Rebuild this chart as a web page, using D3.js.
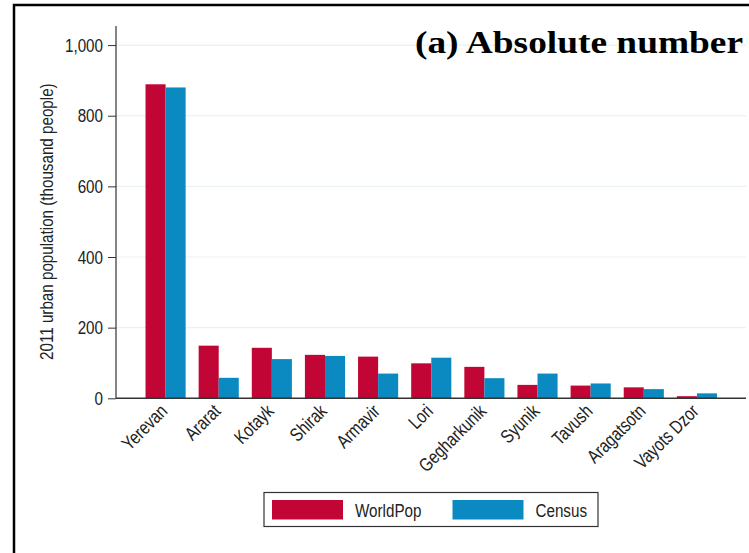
<!DOCTYPE html>
<html>
<head>
<meta charset="utf-8">
<script src="https://cdn.jsdelivr.net/npm/d3@7"></script>
<style>
    body { margin: 0; background: #fff; }
    text { font-family: "Liberation Sans", Arial, sans-serif; }
</style>
</head>
<body>
<div id="chart"></div>
<script>
// Regions, in the order they appear on the x axis
var regions = ["Yerevan", "Ararat", "Kotayk", "Shirak", "Armavir", "Lori",
    "Gegharkunik", "Syunik", "Tavush", "Aragatsotn", "Vayots Dzor"];

// 2011 urban population, thousand people
var worldPop = [889, 149, 143, 123, 118, 99, 89, 38, 36, 31, 6];
var census = [880, 58, 111, 120, 70, 115, 57, 70, 42, 26, 14];

var seriesNames = ["WorldPop", "Census"];
var seriesColors = ["#c10534", "#0a8ac0"];
var yTicks = [0, 200, 400, 600, 800, 1000];

var width = 749, height = 553;
var squeeze = 0.8; // the original glyphs are tall and narrow

let svg = d3.select("#chart").append("svg")
    .attr("width", width)
    .attr("height", height);

// outer frame (runs off the right and bottom edge)
svg.append("rect")
    .attr("x", 14)
    .attr("y", 5)
    .attr("width", 800)
    .attr("height", 600)
    .attr("fill", "none")
    .attr("stroke", "#000")
    .attr("stroke-width", 2.5);

let plot = {left: 116, right: 746, top: 26, bottom: 398.3};

let y = d3.scaleLinear()
    .domain([0, 1054])
    .range([plot.bottom, plot.top]);

let x = d3.scaleBand()
    .domain(regions)
    .range([132.5, 730])
    .padding(0.245);

let xSub = d3.scaleBand()
    .domain(seriesNames)
    .range([0, x.bandwidth()]);

// gridlines
svg.append("g")
    .selectAll("line")
    .data(yTicks.filter(d => d > 0))
    .enter()
    .append("line")
        .attr("x1", plot.left)
        .attr("x2", plot.right)
        .attr("y1", d => y(d))
        .attr("y2", d => y(d))
        .attr("stroke", "#e9f1f2")
        .attr("stroke-width", 1.2);

// bars
let rows = regions.map(function(r, i) {
    return {region: r, values: [worldPop[i], census[i]]};
});

let groups = svg.append("g")
    .selectAll("g")
    .data(rows)
    .enter()
    .append("g")
        .attr("transform", d => "translate(" + x(d.region) + ",0)");

groups.selectAll("rect")
    .data(d => d.values.map((v, j) => ({name: seriesNames[j], value: v, color: seriesColors[j]})))
    .enter()
    .append("rect")
        .attr("x", d => xSub(d.name))
        .attr("width", xSub.bandwidth())
        .attr("y", d => y(d.value))
        .attr("height", d => y(0) - y(d.value))
        .attr("fill", d => d.color);

// y axis
let yAxis = svg.append("g")
    .attr("transform", "translate(" + plot.left + ",0)")
    .call(d3.axisLeft(y).tickValues(yTicks).tickSize(8).tickPadding(5)
        .tickFormat(d3.format(",")));
yAxis.select(".domain").attr("stroke", "#333").attr("stroke-width", 1.2).attr("d", "M0," + plot.bottom + "V" + plot.top);
yAxis.selectAll(".tick line").attr("stroke", "#333");
yAxis.selectAll("text")
    .attr("font-size", "19px")
    .attr("fill", "#222")
    .attr("x", -13 / squeeze)
    .attr("transform", "scale(" + squeeze + ",1)");

// x axis line
svg.append("line")
    .attr("x1", plot.left)
    .attr("x2", plot.right)
    .attr("y1", plot.bottom)
    .attr("y2", plot.bottom)
    .attr("stroke", "#333")
    .attr("stroke-width", 1.5);

let xAxis = svg.append("g")
    .attr("transform", "translate(0," + plot.bottom + ")")
    .call(d3.axisBottom(x).tickSize(0).tickPadding(0));
xAxis.select(".domain").remove();
xAxis.selectAll("text")
    .attr("font-size", "19px")
    .attr("fill", "#222")
    .attr("text-anchor", "end")
    .attr("y", 0)
    .attr("dy", 0)
    .attr("transform", "translate(3,14) rotate(-45) scale(" + squeeze + ",1)");

// y axis title
svg.append("text")
    .attr("transform", "translate(53," + (plot.bottom + 45) / 2 + ") rotate(-90) scale(" + squeeze + ",1)")
    .attr("text-anchor", "middle")
    .attr("font-size", "19px")
    .attr("fill", "#222")
    .text("2011 urban population (thousand people)");

// panel title
svg.append("text")
    .attr("x", 415)
    .attr("y", 53)
    .style("font-family", "'Liberation Serif', 'DejaVu Serif', serif")
    .attr("font-weight", "bold")
    .attr("font-size", "31px")
    .attr("textLength", 328)
    .attr("lengthAdjust", "spacingAndGlyphs")
    .attr("fill", "#000")
    .text("(a) Absolute number");

// legend
let legend = svg.append("g");
legend.append("rect")
    .attr("x", 264)
    .attr("y", 492.5)
    .attr("width", 334)
    .attr("height", 34)
    .attr("fill", "#fff")
    .attr("stroke", "#333")
    .attr("stroke-width", 1.2);

let legendItems = legend.selectAll("g.item")
    .data(seriesNames)
    .enter()
    .append("g")
        .attr("class", "item")
        .attr("transform", (d, i) => "translate(" + (272 + i * 180.5) + ",500)");

legendItems.append("rect")
    .attr("width", 71)
    .attr("height", 19.5)
    .attr("fill", (d, i) => seriesColors[i]);

legendItems.append("text")
    .attr("transform", "translate(83,17) scale(" + squeeze + ",1)")
    .attr("font-size", "19px")
    .attr("fill", "#222")
    .text(d => d);
</script>
</body>
</html>
